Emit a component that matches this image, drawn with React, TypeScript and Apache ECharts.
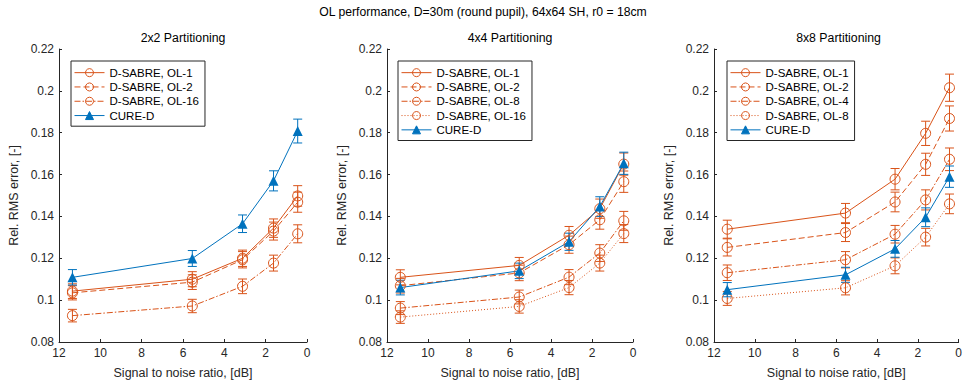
import React, { useEffect, useRef } from "react";
import * as echarts from "echarts";

const SNR = [11.35, 5.55, 3.12, 1.62, 0.45];
const X_TICKS = [0, 2, 4, 6, 8, 10, 12];
const PANEL_TITLES = ["2x2 Partitioning", "4x4 Partitioning", "8x8 Partitioning"];
const MAIN_TITLE = "OL performance, D=30m (round pupil), 64x64 SH, r0 = 18cm";

// Panel 1 (2x2)
const P1_NAMES = ["D-SABRE, OL-1", "D-SABRE, OL-2", "D-SABRE, OL-16", "CURE-D"];
const P1_OL1 = [0.1043, 0.11, 0.12, 0.1344, 0.1498];
const P1_OL2 = [0.1035, 0.1086, 0.1193, 0.133, 0.1468];
const P1_OL16 = [0.0926, 0.0972, 0.1066, 0.1177, 0.1317];
const P1_CURE = [0.1109, 0.1199, 0.1365, 0.157, 0.1808];
const P1_OL1_ERR = [0.0035, 0.0036, 0.0039, 0.0044, 0.0049];
const P1_OL2_ERR = [0.0034, 0.0035, 0.0039, 0.0043, 0.0048];
const P1_OL16_ERR = [0.003, 0.0032, 0.0035, 0.0038, 0.0043];
const P1_CURE_ERR = [0.0037, 0.0038, 0.0042, 0.0048, 0.0057];

// Panel 2 (4x4)
const P2_NAMES = ["D-SABRE, OL-1", "D-SABRE, OL-2", "D-SABRE, OL-8", "D-SABRE, OL-16", "CURE-D"];
const P2_OL1 = [0.1109, 0.1166, 0.131, 0.1437, 0.165];
const P2_OL2 = [0.1069, 0.113, 0.1265, 0.1384, 0.1566];
const P2_OL8 = [0.0962, 0.1015, 0.111, 0.1225, 0.1379];
const P2_OL16 = [0.0919, 0.097, 0.106, 0.1177, 0.1318];
const P2_CURE = [0.106, 0.114, 0.1279, 0.1447, 0.1654];
const P2_OL1_ERR = [0.0036, 0.0038, 0.0042, 0.0046, 0.0053];
const P2_OL2_ERR = [0.0035, 0.0037, 0.0041, 0.0045, 0.0051];
const P2_OL8_ERR = [0.0031, 0.0033, 0.0036, 0.004, 0.0045];
const P2_OL16_ERR = [0.003, 0.0032, 0.0034, 0.0038, 0.0043];
const P2_CURE_ERR = [0.0035, 0.0037, 0.0041, 0.0047, 0.0053];

// Panel 3 (8x8)
const P3_NAMES = ["D-SABRE, OL-1", "D-SABRE, OL-2", "D-SABRE, OL-4", "D-SABRE, OL-8", "CURE-D"];
const P3_OL1 = [0.1339, 0.1416, 0.1578, 0.1797, 0.2015];
const P3_OL2 = [0.1252, 0.1323, 0.1469, 0.1649, 0.1868];
const P3_OL4 = [0.1131, 0.1193, 0.1315, 0.1479, 0.1673];
const P3_OL8 = [0.1008, 0.1059, 0.1164, 0.1301, 0.146];
const P3_CURE = [0.105, 0.1121, 0.1245, 0.1396, 0.159];
const P3_OL1_ERR = [0.0043, 0.0046, 0.0051, 0.0058, 0.0065];
const P3_OL2_ERR = [0.0041, 0.0043, 0.0047, 0.0053, 0.006];
const P3_OL4_ERR = [0.0037, 0.0039, 0.0042, 0.0048, 0.0054];
const P3_OL8_ERR = [0.0033, 0.0034, 0.0038, 0.0042, 0.0047];
const P3_CURE_ERR = [0.0034, 0.0036, 0.004, 0.0045, 0.0051];

const ORANGE = "#D95319";
const BLUE = "#0072BD";
const AXIS = "#262626";
const FONT = "Liberation Sans, Arial, Helvetica, sans-serif";

const SOLID: any = "solid";
const DASHED: any = [6, 3];
const DASHDOT: any = [6, 2, 1.5, 2];
const DOTTED: any = [1, 2];

type Line = { name: string; y: number[]; err: number[]; color: string; dash: any; tri?: boolean };

const PANELS: Line[][] = [
  [
    { name: P1_NAMES[0], y: P1_OL1, err: P1_OL1_ERR, color: ORANGE, dash: SOLID },
    { name: P1_NAMES[1], y: P1_OL2, err: P1_OL2_ERR, color: ORANGE, dash: DASHED },
    { name: P1_NAMES[2], y: P1_OL16, err: P1_OL16_ERR, color: ORANGE, dash: DASHDOT },
    { name: P1_NAMES[3], y: P1_CURE, err: P1_CURE_ERR, color: BLUE, dash: SOLID, tri: true },
  ],
  [
    { name: P2_NAMES[0], y: P2_OL1, err: P2_OL1_ERR, color: ORANGE, dash: SOLID },
    { name: P2_NAMES[1], y: P2_OL2, err: P2_OL2_ERR, color: ORANGE, dash: DASHED },
    { name: P2_NAMES[2], y: P2_OL8, err: P2_OL8_ERR, color: ORANGE, dash: DASHDOT },
    { name: P2_NAMES[3], y: P2_OL16, err: P2_OL16_ERR, color: ORANGE, dash: DOTTED },
    { name: P2_NAMES[4], y: P2_CURE, err: P2_CURE_ERR, color: BLUE, dash: SOLID, tri: true },
  ],
  [
    { name: P3_NAMES[0], y: P3_OL1, err: P3_OL1_ERR, color: ORANGE, dash: SOLID },
    { name: P3_NAMES[1], y: P3_OL2, err: P3_OL2_ERR, color: ORANGE, dash: DASHED },
    { name: P3_NAMES[2], y: P3_OL4, err: P3_OL4_ERR, color: ORANGE, dash: DASHDOT },
    { name: P3_NAMES[3], y: P3_OL8, err: P3_OL8_ERR, color: ORANGE, dash: DOTTED },
    { name: P3_NAMES[4], y: P3_CURE, err: P3_CURE_ERR, color: BLUE, dash: SOLID, tri: true },
  ],
];

const GRIDS = [
  { left: 59, top: 49, width: 248, height: 293 },
  { left: 387, top: 49, width: 246, height: 293 },
  { left: 714, top: 49, width: 249, height: 293 },
];
const LEGEND_POS = [
  { left: 71, top: 61 },
  { left: 398, top: 61 },
  { left: 727, top: 61 },
];

function buildOption() {
  const series: any[] = [];
  const legends: any[] = [];
  PANELS.forEach((lines, p) => {
    const names: string[] = [];
    lines.forEach((ln) => {
      const uid = ln.name + "#" + p;
      names.push(uid);
      series.push({
        type: "custom",
        name: uid + "err",
        xAxisIndex: p,
        yAxisIndex: p,
        encode: { x: 0, y: [1, 2] },
        data: SNR.map((x, i) => [x, ln.y[i] - ln.err[i], ln.y[i] + ln.err[i]]),
        silent: true,
        z: 2,
        renderItem: (params: any, api: any) => {
          const x = api.value(0);
          const lo = api.coord([x, api.value(1)]);
          const hi = api.coord([x, api.value(2)]);
          const w = 4.5;
          const style = { stroke: ln.color, lineWidth: 1, fill: "none" };
          return {
            type: "group",
            children: [
              { type: "line", shape: { x1: lo[0], y1: lo[1], x2: hi[0], y2: hi[1] }, style },
              { type: "line", shape: { x1: lo[0] - w, y1: lo[1], x2: lo[0] + w, y2: lo[1] }, style },
              { type: "line", shape: { x1: hi[0] - w, y1: hi[1], x2: hi[0] + w, y2: hi[1] }, style },
            ],
          };
        },
      });
      series.push({
        type: "line",
        name: uid,
        xAxisIndex: p,
        yAxisIndex: p,
        data: SNR.map((x, i) => [x, ln.y[i]]),
        symbol: ln.tri ? "triangle" : "circle",
        symbolSize: 10,
        showAllSymbol: true,
        color: ln.color,
        itemStyle: ln.tri
          ? { color: ln.color, borderColor: ln.color, borderWidth: 0 }
          : { color: "rgba(255,255,255,0)", borderColor: ln.color, borderWidth: 1 },
        lineStyle: { color: ln.color, width: 1, type: ln.dash },
        z: 3,
      });
    });
    legends.push({
      data: names,
      orient: "vertical",
      left: LEGEND_POS[p].left,
      top: LEGEND_POS[p].top,
      itemWidth: 30,
      itemHeight: 10,
      itemGap: 1,
      padding: [5, 6, 4, 3],
      borderColor: AXIS,
      borderWidth: 1,
      backgroundColor: "#fff",
      selectedMode: false,
      itemStyle: { borderWidth: 1 },
      lineStyle: { width: 1 },
      formatter: (n: string) => n.split("#")[0],
      textStyle: { fontFamily: FONT, fontSize: 11.5, lineHeight: 13.3, color: "#000" },
    });
  });

  const titles: any[] = [
    {
      text: MAIN_TITLE,
      left: 483,
      top: 6,
      padding: 0,
      textAlign: "center",
      textStyle: { fontFamily: FONT, fontSize: 12.2, fontWeight: "normal", color: "#000" },
    },
  ];
  GRIDS.forEach((g, i) => {
    titles.push({
      text: PANEL_TITLES[i],
      left: g.left + g.width / 2,
      top: 32,
      padding: 0,
      textAlign: "center",
      textStyle: { fontFamily: FONT, fontSize: 12.3, fontWeight: "normal", color: "#000" },
    });
  });

  const axisLabel = { fontFamily: FONT, fontSize: 12, color: AXIS };
  const xAxis = GRIDS.map((_, i) => ({
    type: "value",
    gridIndex: i,
    min: 0,
    max: 12,
    interval: 2,
    inverse: true,
    name: "Signal to noise ratio, [dB]",
    nameLocation: "middle",
    nameGap: 24,
    nameTextStyle: { fontFamily: FONT, fontSize: 12.5, color: AXIS },
    axisLine: { show: true, onZero: false, lineStyle: { color: AXIS, width: 1 } },
    axisTick: { show: true, inside: true, length: 3, lineStyle: { color: AXIS } },
    axisLabel: { ...axisLabel, margin: 5, formatter: (v: number) => (X_TICKS.includes(v) ? String(v) : "") },
    splitLine: { show: false },
  }));
  const yAxis = GRIDS.map((_, i) => ({
    type: "value",
    gridIndex: i,
    min: 0.08,
    max: 0.22,
    interval: 0.02,
    name: "Rel. RMS error, [-]",
    nameLocation: "middle",
    nameGap: 39,
    nameTextStyle: { fontFamily: FONT, fontSize: 12.5, color: AXIS },
    axisLine: { show: true, onZero: false, lineStyle: { color: AXIS, width: 1 } },
    axisTick: { show: true, inside: true, length: 3, lineStyle: { color: AXIS } },
    axisLabel: { ...axisLabel, margin: 5, formatter: (v: number) => String(Math.round(v * 100) / 100) },
    splitLine: { show: false },
  }));

  return {
    animation: false,
    backgroundColor: "#fff",
    title: titles,
    legend: legends,
    grid: GRIDS.map((g) => ({ ...g, containLabel: false })),
    xAxis,
    yAxis,
    series,
  };
}

export default function App() {
  const ref = useRef<HTMLDivElement>(null);
  useEffect(() => {
    document.body.style.margin = "0";
    if (!ref.current) return;
    const chart = echarts.init(ref.current, null, { renderer: "svg" });
    chart.setOption(buildOption() as any);
    return () => chart.dispose();
  }, []);
  return <div ref={ref} style={{ width: 965, height: 384 }} />;
}
